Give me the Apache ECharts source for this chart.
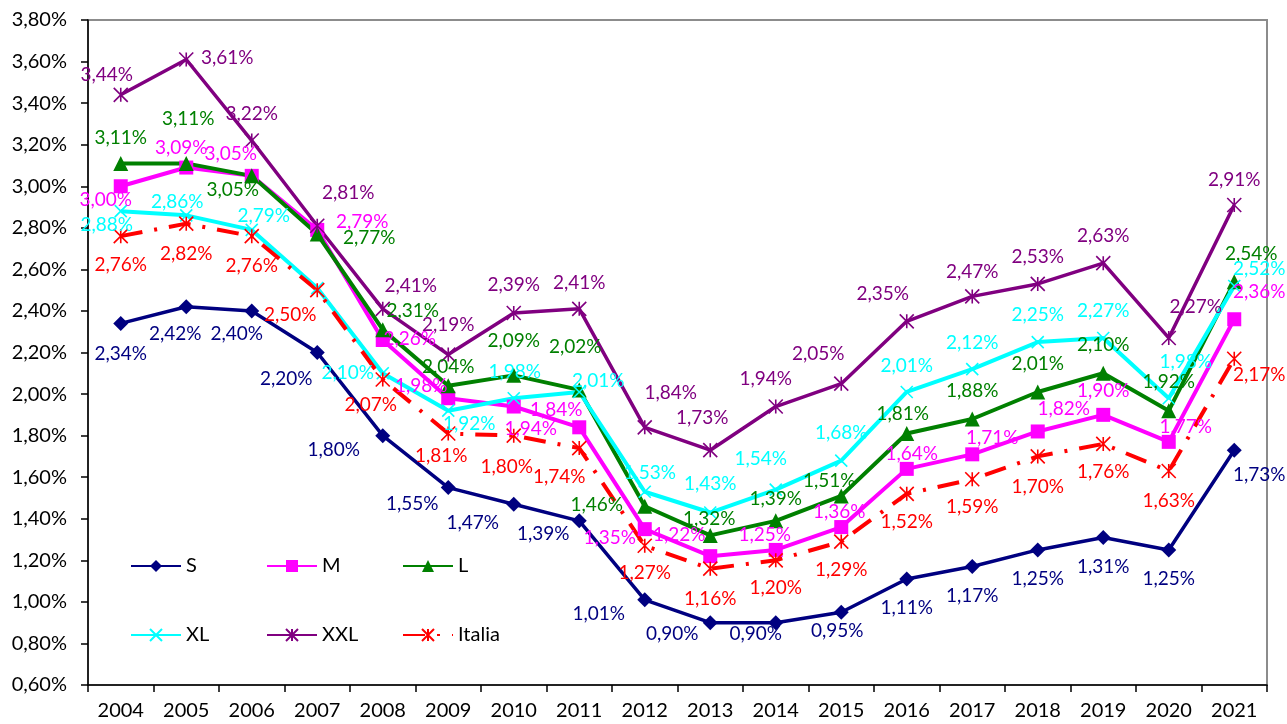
<!DOCTYPE html>
<html>
<head>
<meta charset="utf-8">
<title>Andamento per classe</title>
<script src="https://cdn.jsdelivr.net/npm/echarts@6/dist/echarts.min.js"></script>
<style>
  html, body { margin: 0; padding: 0; background: #fff; }
  #chart { width: 1287px; height: 724px; }
</style>
</head>
<body>
<div id="chart"></div>
<script>
const years = ['2004', '2005', '2006', '2007', '2008', '2009', '2010', '2011', '2012',
  '2013', '2014', '2015', '2016', '2017', '2018', '2019', '2020', '2021']

// valori in %
const valS = [2.34, 2.42, 2.40, 2.20, 1.80, 1.55, 1.47, 1.39, 1.01, 0.90, 0.90, 0.95, 1.11, 1.17, 1.25, 1.31, 1.25, 1.73]
const valM = [3.00, 3.09, 3.05, 2.79, 2.26, 1.98, 1.94, 1.84, 1.35, 1.22, 1.25, 1.36, 1.64, 1.71, 1.82, 1.90, 1.77, 2.36]
const valL = [3.11, 3.11, 3.05, 2.77, 2.31, 2.04, 2.09, 2.02, 1.46, 1.32, 1.39, 1.51, 1.81, 1.88, 2.01, 2.10, 1.92, 2.54]
const valXL = [2.88, 2.86, 2.79, 2.51, 2.10, 1.92, 1.98, 2.01, 1.53, 1.43, 1.54, 1.68, 2.01, 2.12, 2.25, 2.27, 1.98, 2.52]
const valXXL = [3.44, 3.61, 3.22, 2.81, 2.41, 2.19, 2.39, 2.41, 1.84, 1.73, 1.94, 2.05, 2.35, 2.47, 2.53, 2.63, 2.27, 2.91]
const valItalia = [2.76, 2.82, 2.76, 2.50, 2.07, 1.81, 1.80, 1.74, 1.27, 1.16, 1.20, 1.29, 1.52, 1.59, 1.70, 1.76, 1.63, 2.17]

// spostamento delle etichette rispetto al punto (px), null = nessuna etichetta
const offS = [[0, 30], [-11, 27], [-15, 23], [-31, 26], [-49, 14], [-36, 16], [-41, 19], [-36, 13], [-46, 14],
  [-38, 11], [-20, 11], [-4, 19], [0, 29], [0, 29], [0, 29], [0, 29], [0, 29], [25, 25]]
const offM = [[-15, 14], [-5, -20], [-21, -22], [45, -8], [27, -1], [-27, -12], [17, 22], [-23, -17], [-35, 9],
  [-31, -21], [-11, -15], [-2, -15], [5, -15], [20, -16], [26, -23], [0, -24], [17, -15], [25, -27]]
const offL = [[0, -26], [2, -45], [-19, 14], [52, 4], [30, -19], [0, -19], [0, -34], [-4, -43], [-48, -1],
  [-1, -17], [0, -22], [-12, -15], [-4, -20], [0, -28], [0, -28], [0, -28], [0, -29], [17, -28]]
const offXL = [[-14, 14], [-9, -13], [12, -14], null, [-35, 0], [21, 13], [1, -26], [19, -11], [5, -19],
  [0, -29], [-15, -31], [0, -28], [0, -26], [0, -26], [0, -27], [0, -27], [17, -36], [25, -17]]
const offXXL = [[-14, -20], [41, -2], [0, -27], [31, -33], [28, -23], [0, -30], [0, -28], [0, -26], [26, -34],
  [-8, -32], [-10, -28], [-23, -30], [-24, -27], [0, -25], [0, -27], [0, -27], [27, -31], [0, -25]]
const offItalia = [[0, 29], [0, 30], [0, 30], [-27, 25], [-12, 25], [-7, 22], [-7, 31], [-20, 29], [0, 27],
  [0, 30], [0, 28], [0, 28], [0, 28], [0, 28], [0, 30], [0, 28], [0, 30], [25, 16]]

const FONT = 'Lato'
const pct = v => v.toFixed(2).replace('.', ',') + '%'
const xMark = 'path://M0,0L10,10M10,0L0,10'
const star = 'path://M0,0L10,10M10,0L0,10M5,0L5,10'

function makeSeries (name, values, offsets, color, symbol, size, lineStyle) {
  return {
    name: name,
    type: 'line',
    symbol: symbol,
    symbolSize: size,
    showAllSymbol: true,
    lineStyle: Object.assign({ color: color, width: 4 }, lineStyle || {}),
    itemStyle: { color: color, borderColor: color, borderWidth: symbol.indexOf('path') === 0 ? 1.6 : 0 },
    label: {
      show: true,
      position: 'inside',
      color: color,
      fontFamily: FONT,
      fontSize: 19,
      formatter: p => pct(p.value)
    },
    emphasis: { disabled: true },
    data: values.map((v, i) => ({
      value: v,
      label: offsets[i] ? { offset: offsets[i] } : { show: false }
    }))
  }
}

function legendAt (name, left, top) {
  return {
    data: [name],
    left: left,
    top: top,
    padding: 0,
    itemWidth: 50,
    itemHeight: 15,
    selectedMode: false,
    textStyle: { fontFamily: FONT, fontSize: 20, color: '#000' }
  }
}

let chart = echarts.init(document.getElementById('chart'))
chart.setOption({
  animation: false,
  backgroundColor: '#fff',
  grid: {
    left: 88,
    right: 20,
    top: 20,
    bottom: 39,
    show: true,
    borderColor: '#8c8c8c',
    borderWidth: 2
  },
  legend: [
    legendAt('S', 130, 556),
    legendAt('M', 266, 556),
    legendAt('L', 402, 556),
    legendAt('XL', 130, 625),
    legendAt('XXL', 266, 625),
    legendAt('Italia', 402, 625)
  ],
  xAxis: {
    type: 'category',
    data: years,
    boundaryGap: true,
    axisLine: { lineStyle: { color: '#000', width: 1.5 } },
    axisTick: { show: true, interval: 0, length: 7, lineStyle: { color: '#000', width: 1.5 } },
    axisLabel: { interval: 0, margin: 16, color: '#000', fontFamily: FONT, fontSize: 20 },
    splitLine: { show: false }
  },
  yAxis: {
    type: 'value',
    min: 0.6,
    max: 3.8,
    interval: 0.2,
    axisLine: { show: true, lineStyle: { color: '#000', width: 1.5 } },
    axisTick: { show: true, length: 7, lineStyle: { color: '#000', width: 1.5 } },
    axisLabel: {
      margin: 21,
      color: '#000',
      fontFamily: FONT,
      fontSize: 20,
      formatter: v => pct(v)
    },
    splitLine: { show: false }
  },
  series: [
    makeSeries('S', valS, offS, '#000080', 'diamond', 15, { width: 3.5 }),
    makeSeries('M', valM, offM, '#ff00ff', 'rect', 14),
    makeSeries('L', valL, offL, '#008000', 'triangle', 15),
    makeSeries('XL', valXL, offXL, '#00ffff', xMark, 12),
    makeSeries('XXL', valXXL, offXXL, '#800080', star, 14, { width: 3.5 }),
    makeSeries('Italia', valItalia, offItalia, '#ff0000', star, 14, { type: [22, 12, 3, 12], width: 4 })
  ]
})
</script>
</body>
</html>
